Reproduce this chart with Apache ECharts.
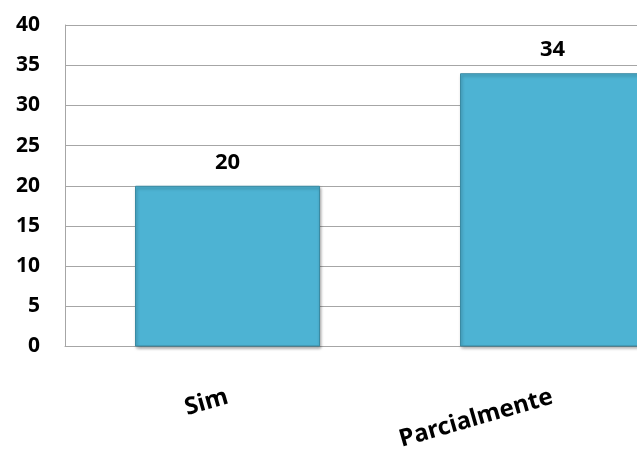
<!DOCTYPE html>
<html>
<head>
<meta charset="utf-8">
<script src="https://cdn.jsdelivr.net/npm/echarts@6/dist/echarts.min.js"></script>
<style>
  html, body { margin: 0; padding: 0; background: #fff; overflow: hidden; }
  /* the plot runs past the right edge of the picture, as in the original crop */
  #chart { width: 715px; height: 459px; }
</style>
</head>
<body>
<div id="chart"></div>
<script>
const categories = ["Sim", "Parcialmente"];
const values = [20, 34];
const yTicks = [0, 5, 10, 15, 20, 25, 30, 35, 40];

const chart = echarts.init(document.getElementById("chart"));
const font = "Noto Sans";

chart.setOption({
  animation: false,
  grid: { left: 65, top: 25, right: 0, height: 321.5, outerBoundsMode: "none" },
  xAxis: {
    type: "category",
    data: categories,
    axisLine: { lineStyle: { color: "#a6a6a6", width: 1 } },
    axisTick: { show: false },
    axisLabel: {
      rotate: 16,
      margin: 50,
      color: "#000",
      fontFamily: font,
      fontWeight: "bold",
      fontSize: 24
    }
  },
  yAxis: {
    type: "value",
    min: yTicks[0],
    max: yTicks[yTicks.length - 1],
    interval: 5,
    axisLine: { show: true, lineStyle: { color: "#a6a6a6", width: 1 } },
    axisTick: { show: false },
    splitLine: { lineStyle: { color: "#a6a6a6", width: 1 } },
    axisLabel: {
      margin: 25,
      color: "#000",
      fontFamily: font,
      fontWeight: "bold",
      fontSize: 21
    }
  },
  series: [{
    type: "bar",
    data: values,
    barWidth: 185,
    itemStyle: {
      color: "#4db3d3",
      borderColor: "#3a8aa2",
      borderWidth: 1,
      shadowColor: "rgba(0,0,0,0.35)",
      shadowBlur: 3,
      shadowOffsetX: 1,
      shadowOffsetY: 2
    },
    label: {
      show: true,
      position: "top",
      distance: 12,
      color: "#000",
      fontFamily: font,
      fontWeight: "bold",
      fontSize: 22
    }
  }]
});
</script>
</body>
</html>
